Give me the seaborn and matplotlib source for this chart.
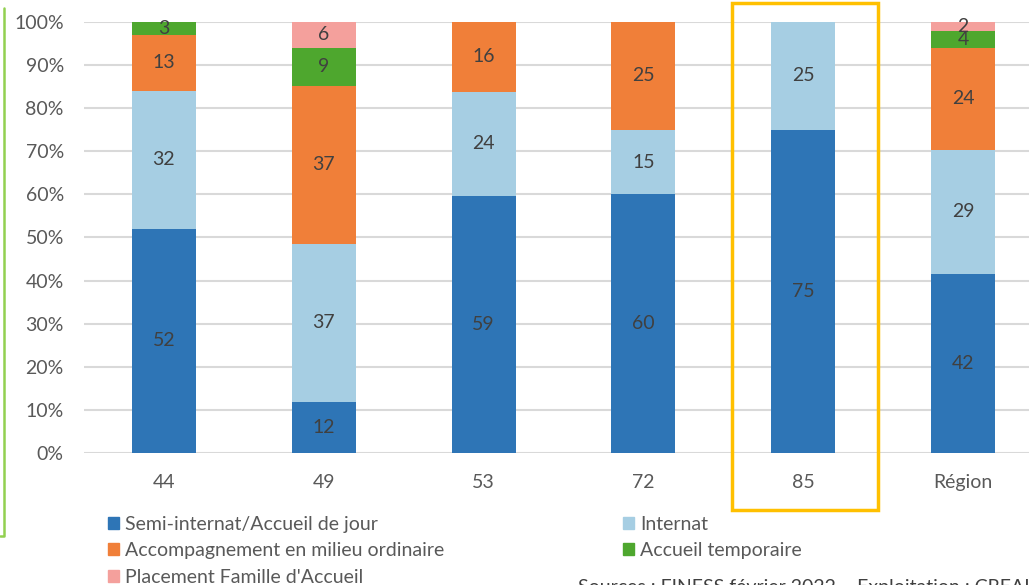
import matplotlib.pyplot as plt
import matplotlib.patches as mpatches
import matplotlib.lines as mlines
import numpy as np
import seaborn as sns

# data (percentages shown in the bars)
categories = ["44", "49", "53", "72", "85", "Région"]
semi_internat = [52, 12, 59, 60, 75, 42]
internat = [32, 37, 24, 15, 25, 29]
accompagnement = [13, 37, 16, 25, 0, 24]
accueil_temporaire = [3, 9, 0, 0, 0, 4]
placement_famille = [0, 6, 0, 0, 0, 2]

series_names = [
    "Semi-internat/Accueil de jour",
    "Internat",
    "Accompagnement en milieu ordinaire",
    "Accueil temporaire",
    "Placement Famille d'Accueil",
]
series_values = [semi_internat, internat, accompagnement,
                 accueil_temporaire, placement_famille]
colors = ["#2E75B6", "#A6CEE3", "#F07F39", "#4EA72E", "#F4A09C"]

sns.set_theme(style="white")
plt.rcParams["font.family"] = ["Lato", "DejaVu Sans"]

TEXT = "#595959"
LABEL = "#404040"
FS = 14

fig = plt.figure(figsize=(10.29, 5.85), dpi=100)
ax = fig.add_axes([84 / 1029, 1 - 453 / 585, 1 - 84 / 1029, (453 - 22) / 585])

vals = np.array(series_values, dtype=float)
totals = vals.sum(axis=0)
shares = vals / totals * 100  # 100% stacked
bottoms = np.zeros(len(categories))
handles = []
for name, share, raw, col in zip(series_names, shares, vals, colors):
    sns.barplot(x=categories, y=share, bottom=bottoms, color=col, width=0.4,
                ax=ax, zorder=3, linewidth=0, saturation=1)
    for i, (s, r) in enumerate(zip(share, raw)):
        if r > 0:
            ax.text(i, bottoms[i] + s / 2, f"{int(r)}", ha="center", va="center",
                    fontsize=FS, color=LABEL, zorder=4)
    bottoms = bottoms + share
    handles.append(mpatches.Patch(color=col, label=name))

ax.set_ylim(0, 100)
ax.set_xlim(-0.5, 5 + (1029 - 963) / 160)
ax.set_yticks(range(0, 101, 10))
ax.set_yticklabels([f"{v}%" for v in range(0, 101, 10)])
ax.yaxis.grid(True, color="#D9D9D9", linewidth=1.5, zorder=0)
ax.set_axisbelow(True)
ax.tick_params(axis="y", labelsize=FS, labelcolor=TEXT, pad=14.5, length=0)
ax.tick_params(axis="x", labelsize=FS, labelcolor=TEXT, pad=15, length=0)
ax.set_xlabel("")
ax.set_ylabel("")
sns.despine(ax=ax, left=True, bottom=True)

order = [0, 2, 4, 1, 3]
leg = fig.legend([handles[i] for i in order], [series_names[i] for i in order],
                 ncol=2, loc="upper left", bbox_to_anchor=(108 / 1029, 1 - 516 / 585),
                 frameon=False, fontsize=FS, handlelength=0.57, handleheight=0.57,
                 handletextpad=0.3, labelspacing=0.48, columnspacing=9.2,
                 borderpad=0, borderaxespad=0)
for t in leg.get_texts():
    t.set_color(TEXT)

# highlight box around 85
fig.add_artist(mpatches.Rectangle((732 / 1029, 1 - 510 / 585), 146 / 1029, 507 / 585,
                                  transform=fig.transFigure, fill=False,
                                  edgecolor="#FFC000", linewidth=2.5))
# green frame edge on the left
fig.add_artist(mlines.Line2D([4 / 1029, 4 / 1029, 0], [1 - 8 / 585, 1 - 536 / 585, 1 - 536 / 585],
                             transform=fig.transFigure, color="#92D050", linewidth=1.8))

fig.text(578 / 1029, 1 - 593 / 585,
         "Sources : FINESS février 2022 – Exploitation : CREAI Pays de la Loire",
         fontsize=FS, color=LABEL, va="baseline")

fig.savefig("out.png", dpi=100)
